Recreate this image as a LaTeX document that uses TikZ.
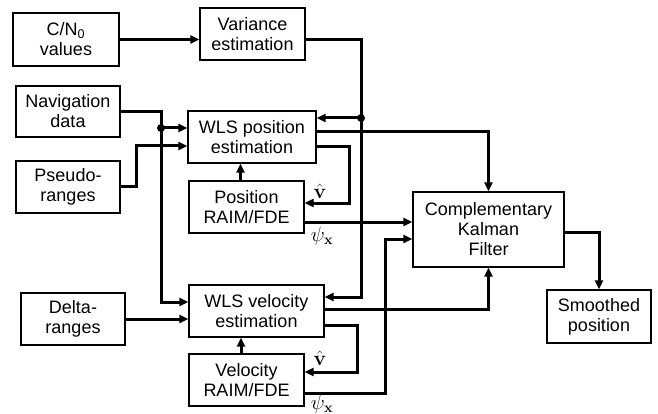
\documentclass[tikz,border=0pt]{standalone}
\usepackage{amsmath,amssymb}
\usepackage[no-math]{fontspec}
\setmainfont{Liberation Sans}
\usetikzlibrary{arrows.meta,calc}
\tikzset{
  blk/.style={draw, line width=1.2pt, align=center, inner sep=0pt,
              font=\fontsize{18}{20}\selectfont},
  flw/.style={-{Triangle[length=9pt,width=8pt]}, line width=3pt},
  jdot/.style={circle, fill, inner sep=0pt, minimum size=8pt},
  sym/.style={inner sep=0pt, font=\fontsize{22}{24}\selectfont},
}

\begin{document}
\begin{tikzpicture}[x=1pt, y=-1pt]
    \useasboundingbox (0,0) rectangle (658,414);
    % blocks
    \node[blk, minimum width=106pt, minimum height=53pt] (cn0) at (66,39.5) {C/N\textsubscript{0}\\values};
    \node[blk, minimum width=105pt, minimum height=52pt] (var) at (252.5,34) {Variance\\estimation};
    \node[blk, minimum width=104pt, minimum height=51pt] (nav) at (68,111.5) {Navigation\\data};
    \node[blk, minimum width=104pt, minimum height=52pt] (pseudo) at (68,187) {Pseudo-\\ranges};
    \node[blk, minimum width=128pt, minimum height=52pt] (wlsp) at (252,137) {WLS position\\estimation};
    \node[blk, minimum width=115pt, minimum height=52pt] (praim) at (246.5,207) {Position\\RAIM/FDE};
    \node[blk, minimum width=151pt, minimum height=75pt] (ckf) at (488.5,229.5) {Complementary\\Kalman\\Filter};
    \node[blk, minimum width=104pt, minimum height=53pt] (smooth) at (599,316.5) {Smoothed\\position};
    \node[blk, minimum width=104pt, minimum height=52pt] (delta) at (73,319) {Delta-\\ranges};
    \node[blk, minimum width=135pt, minimum height=52pt] (wlsv) at (256.5,311) {WLS velocity\\estimation};
    \node[blk, minimum width=115pt, minimum height=52pt] (vraim) at (246.5,380) {Velocity\\RAIM/FDE};

    % bends and junctions
    \coordinate (vbus) at (361,118);
    \coordinate (nbus) at (161,128);
    \coordinate (pbend) at (136,146);
    \coordinate (pfb) at (349,203);
    \coordinate (vfb) at (357,372);
    \coordinate (vbend) at (385,239);

    % inputs
    \draw[flw] (cn0.east) -- (cn0.east -| var.west);
    \draw[flw] (var.east |- cn0.east) -| (vbus) |- ([yshift=14pt]wlsv.east);
    \draw[flw] (vbus) -- (vbus -| wlsp.east);
    \draw[flw] (nav.east) -| (nbus) |- ([yshift=9pt]wlsv.west);
    \draw[flw] (nbus) -- (nbus -| wlsp.west);
    \draw[flw] (pseudo.east) -| (pbend) -- (pbend -| wlsp.west);
    \draw[flw] (delta.east) -- (delta.east -| wlsv.west);
    \node[jdot] (dv) at (vbus) {};
    \node[jdot] (dn) at (nbus) {};

    % position branch
    \draw[flw] ([yshift=5pt]wlsp.east) -| (ckf.north);
    \draw[flw] ([yshift=-10pt]wlsp.east) -| (pfb) -- (pfb -| praim.east);
    \draw[flw] ([xshift=-6pt]praim.north) -- ([xshift=-6pt]praim.north |- wlsp.south);
    \draw[flw] ([yshift=-15pt]praim.east) -- ([yshift=-15pt]praim.east -| ckf.west);
    \node[sym] (vhp) at (320,191) {$\hat{\mathbf{v}}$};
    \node[sym] (psip) at (322,236) {$\psi_{\mathbf{x}}$};

    % velocity branch
    \draw[flw] ([yshift=2pt]wlsv.east) -| (ckf.south);
    \draw[flw] ([yshift=-14pt]wlsv.east) -| (vfb) -- (vfb -| vraim.east);
    \draw[flw] ([xshift=-5.5pt]vraim.north) -- ([xshift=-5.5pt]vraim.north |- wlsv.south);
    \draw[flw] ([yshift=-13pt]vraim.east) -| (vbend) -- (vbend -| ckf.west);
    \node[sym] (vhv) at (320,358) {$\hat{\mathbf{v}}$};
    \node[sym] (psiv) at (322,404) {$\psi_{\mathbf{x}}$};

    % output
    \draw[flw] ([yshift=-3pt]ckf.east) -| (smooth.north);
  \end{tikzpicture}
\end{document}
